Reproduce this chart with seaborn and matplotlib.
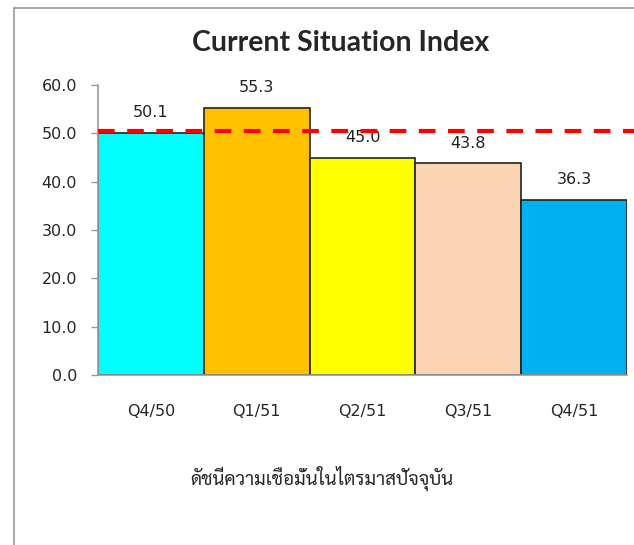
import matplotlib
matplotlib.use("Agg")
import matplotlib.pyplot as plt
import seaborn as sns
from matplotlib.lines import Line2D

quarters = ["Q4/50", "Q1/51", "Q2/51", "Q3/51", "Q4/51"]
values = [50.1, 55.3, 45.0, 43.8, 36.3]
bar_colors = ["#00FFFF", "#FFC000", "#FFFF00", "#FBD4B4", "#00B0F0"]
threshold = 50.5
yticks = [0, 10, 20, 30, 40, 50, 60]

sns.set_style("white")
plt.rcParams['font.family'] = ['DejaVu Sans']

fig = plt.figure(figsize=(6.34, 5.45), dpi=100)
ax = fig.add_axes([98/634, 1-375/545, (627-98)/634, (375-85)/545])

sns.barplot(x=quarters, y=values, hue=quarters, palette=bar_colors, width=1.0,
            saturation=1, edgecolor="#222222", linewidth=1.2, legend=False, ax=ax)

for i, v in enumerate(values):
    ax.annotate(f"{v:.1f}", (i, v), xytext=(0, 9), textcoords="offset points",
                ha="center", va="bottom", fontsize=11.5, color="#222222")

# เส้นประสีแดง
ax.hlines(threshold, -0.5, 4.57, colors="red", linestyles=(0, (4, 3)),
          linewidth=3, clip_on=False, zorder=5)

ax.set_xlim(-0.5, 4.5)
ax.set_ylim(0, 60)
ax.set_yticks(yticks)
ax.set_yticklabels([f"{t:.1f}" for t in yticks])
ax.tick_params(axis="y", length=5, width=1, color="#999999", pad=10, labelsize=11.5, left=True)
ax.tick_params(axis="x", length=0, pad=21, labelsize=11.5)
for s in ["top", "right"]:
    ax.spines[s].set_visible(False)
for s in ["left", "bottom"]:
    ax.spines[s].set_color("#999999")
    ax.spines[s].set_linewidth(1.2)
ax.set_xlabel("")
ax.set_ylabel("")

fig.text(341/634, 1-43/545, "Current Situation Index", ha="center", va="center",
         fontsize=20.5, fontweight="bold", family=["Lato", "DejaVu Sans"])
fig.text(322/634, 1-478/545, "ดัชนีความเชื่อมั่นในไตรมาสปัจจุบัน", ha="center", va="center",
         fontsize=13.5, family=["Sarabun", "DejaVu Sans"])

# กรอบด้านนอก
fig.add_artist(Line2D([14/634, 14/634], [0, 1-8/545], color="#999999", linewidth=1.2))
fig.add_artist(Line2D([14/634, 1], [1-8/545, 1-8/545], color="#999999", linewidth=1.2))

fig.savefig("out.png", dpi=100)
